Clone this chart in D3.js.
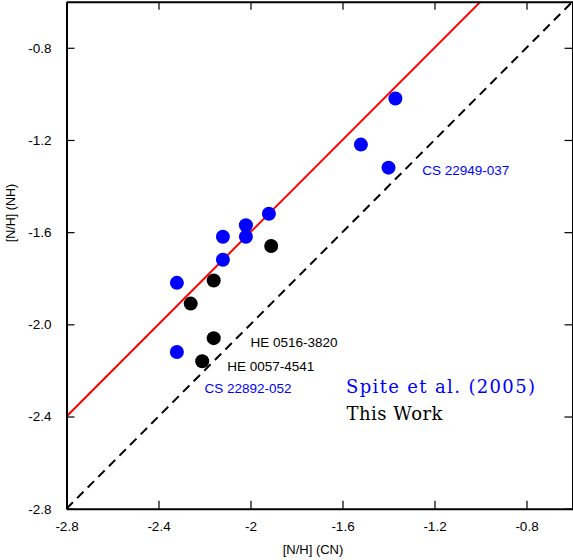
<!DOCTYPE html>
<html>
<head>
<meta charset="utf-8">
<script src="https://cdn.jsdelivr.net/npm/d3@7"></script>
<style>
  html, body { margin: 0; padding: 0; background: #fff; }
  svg { display: block; }
</style>
</head>
<body>
<svg id="chart" width="573" height="560"></svg>
<script>
// [N/H] from the CN band vs [N/H] from the NH band
const spiteCN = [-1.37, -1.52, -1.40, -1.92, -2.02, -2.02, -2.12, -2.12, -2.32, -2.32];
const spiteNH = [-1.02, -1.22, -1.32, -1.52, -1.57, -1.62, -1.62, -1.72, -1.82, -2.12];
const workCN = [-1.91, -2.16, -2.26, -2.16, -2.21];
const workNH = [-1.66, -1.81, -1.91, -2.06, -2.16];

const tickValues = [-2.8, -2.4, -2.0, -1.6, -1.2, -0.8];
const xTickLabels = ["-2.8", "-2.4", "-2", "-1.6", "-1.2", "-0.8"];
const yTickLabels = ["-2.8", "-2.4", "-2.0", "-1.6", "-1.2", "-0.8"];

// star labels: name, anchor in data units, colour group
const starNames = ["HE 0516-3820", "HE 0057-4541", "CS 22892-052", "CS 22949-037"];
const starCN = [-2.000, -2.101, -2.200, -1.253];
const starNH = [-2.080, -2.183, -2.279, -1.332];
const starGroup = ["work", "work", "spite", "spite"];

const offsetNH = 0.4; // offset of the upper relation: NH = CN + 0.4
const domain = [-2.8, -0.6];

const svg = d3.select("#chart");
const margin = { left: 66.5, right: 0.5, top: 1.7, bottom: 51.3 };
const W = 573, H = 560;

const x = d3.scaleLinear().domain(domain).range([margin.left, W - margin.right]);
const y = d3.scaleLinear().domain(domain).range([H - margin.bottom, margin.top]);

const colors = { spite: "#0000ff", work: "#000000" };

svg.append("defs").append("clipPath").attr("id", "plotClip")
  .append("rect")
  .attr("x", x.range()[0]).attr("y", y.range()[1])
  .attr("width", x.range()[1] - x.range()[0])
  .attr("height", y.range()[0] - y.range()[1]);

const plot = svg.append("g").attr("clip-path", "url(#plotClip)");

// one-to-one relation (dashed) and offset relation (red)
const line = d3.line().x(d => x(d[0])).y(d => y(d[1]));
plot.append("path")
  .datum(domain.map(v => [v, v]))
  .attr("d", line)
  .attr("fill", "none").attr("stroke", "#000").attr("stroke-width", 2)
  .attr("stroke-dasharray", "9,6");
plot.append("path")
  .datum(domain.map(v => [v, v + offsetNH]))
  .attr("d", line)
  .attr("fill", "none").attr("stroke", "#ff0000").attr("stroke-width", 2);

// data points
const spite = spiteCN.map((c, i) => [c, spiteNH[i]]);
const work = workCN.map((c, i) => [c, workNH[i]]);
plot.selectAll("circle.spite").data(spite).join("circle")
  .attr("class", "spite")
  .attr("cx", d => x(d[0])).attr("cy", d => y(d[1])).attr("r", 7)
  .attr("fill", colors.spite);
plot.selectAll("circle.work").data(work).join("circle")
  .attr("class", "work")
  .attr("cx", d => x(d[0])).attr("cy", d => y(d[1])).attr("r", 7)
  .attr("fill", colors.work);

// frame with inward ticks on all four sides
const font = "'Liberation Sans', Arial, sans-serif";
const tickLen = 8;

function styleAxis(g) {
  g.selectAll(".domain").attr("stroke", "#000").attr("stroke-width", 2);
  g.selectAll(".tick line").attr("stroke", "#000").attr("stroke-width", 1.2);
  g.selectAll(".tick text").attr("font-family", font).attr("font-size", 13.5).attr("fill", "#000");
}

const xBottom = svg.append("g")
  .attr("transform", `translate(0,${y.range()[0]})`)
  .call(d3.axisBottom(x).tickValues(tickValues)
    .tickSize(-tickLen).tickSizeOuter(0).tickPadding(13)
    .tickFormat((d, i) => xTickLabels[i]));
styleAxis(xBottom);

const xTop = svg.append("g")
  .attr("transform", `translate(0,${y.range()[1]})`)
  .call(d3.axisTop(x).tickValues(tickValues)
    .tickSize(-tickLen).tickSizeOuter(0).tickFormat(""));
styleAxis(xTop);

const yLeft = svg.append("g")
  .attr("transform", `translate(${x.range()[0]},0)`)
  .call(d3.axisLeft(y).tickValues(tickValues)
    .tickSize(-tickLen).tickSizeOuter(0).tickPadding(15)
    .tickFormat((d, i) => yTickLabels[i]));
styleAxis(yLeft);

const yRight = svg.append("g")
  .attr("transform", `translate(${x.range()[1]},0)`)
  .call(d3.axisRight(y).tickValues(tickValues)
    .tickSize(-tickLen).tickSizeOuter(0).tickFormat(""));
styleAxis(yRight);

// axis titles
svg.append("text")
  .attr("x", 313).attr("y", 554)
  .attr("text-anchor", "middle")
  .attr("font-family", font).attr("font-size", 13)
  .text("[N/H] (CN)");
svg.append("text")
  .attr("transform", "translate(15,213) rotate(-90)")
  .attr("text-anchor", "middle")
  .attr("font-family", font).attr("font-size", 12.5)
  .text("[N/H] (NH)");

// star labels
svg.selectAll("text.star").data(starNames).join("text")
  .attr("class", "star")
  .attr("x", (d, i) => x(starCN[i]))
  .attr("y", (d, i) => y(starNH[i]))
  .attr("dy", "0.35em")
  .attr("font-family", font).attr("font-size", 13.5)
  .attr("fill", (d, i) => colors[starGroup[i]])
  .text(d => d);

// legend
const legendFont = "'DejaVu Serif', 'Liberation Serif', serif";
svg.append("text")
  .attr("x", 346).attr("y", 393)
  .attr("font-family", legendFont).attr("font-size", 18)
  .attr("textLength", 189).attr("lengthAdjust", "spacing")
  .attr("fill", colors.spite)
  .text("Spite et al. (2005)");
svg.append("text")
  .attr("x", 346.5).attr("y", 419.5)
  .attr("font-family", legendFont).attr("font-size", 18)
  .attr("textLength", 96).attr("lengthAdjust", "spacing")
  .attr("fill", colors.work)
  .text("This Work");
</script>
</body>
</html>
